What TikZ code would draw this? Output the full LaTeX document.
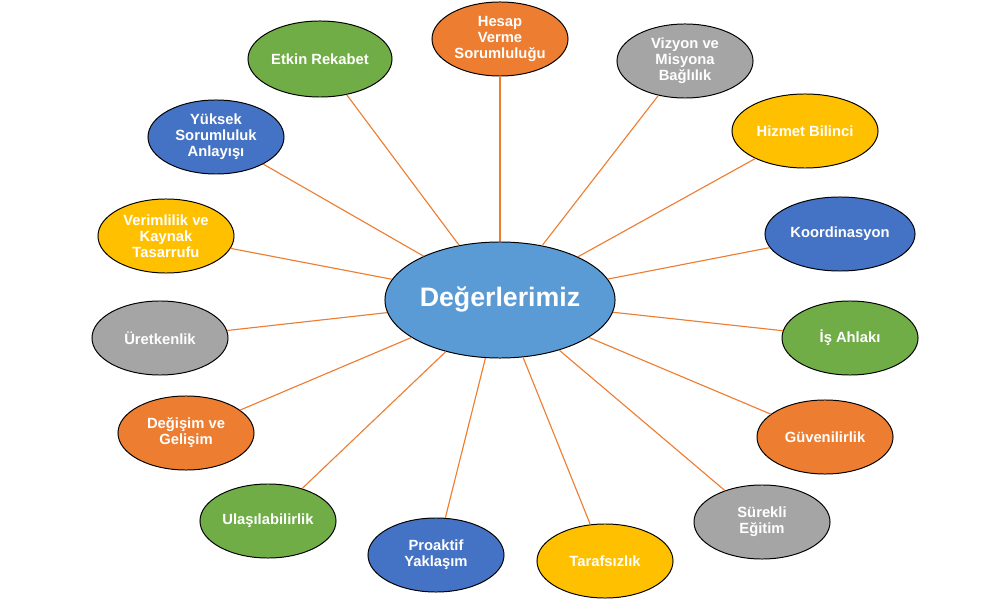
\documentclass[tikz,border=0pt]{standalone}
\usepackage{fontspec}
\setmainfont{Liberation Sans}
\usepackage{tikz}
\usetikzlibrary{shapes.geometric}

\definecolor{orng}{HTML}{ED7D31}
\definecolor{gry}{HTML}{A5A5A5}
\definecolor{ylw}{HTML}{FFC000}
\definecolor{blu}{HTML}{4472C4}
\definecolor{grn}{HTML}{70AD47}
\definecolor{mainblu}{HTML}{5B9BD5}

\tikzset{
  value/.style={ellipse, draw=black, line width=0.7pt, fill=#1, text=white,
    inner sep=0pt, minimum width=3.4cm, minimum height=1.85cm, align=center,
    font=\fontsize{10.5}{11.4}\selectfont\bfseries},
  link/.style={draw=orng, line width=0.8pt}
}

\begin{document}
\begin{tikzpicture}[x=0.025cm,y=0.025cm]
\useasboundingbox (0,0) rectangle (1004,-602);
% center
\node [value=mainblu, minimum width=5.75cm, minimum height=2.9cm,
  font=\fontsize{19}{22}\selectfont\bfseries] (main) at (500,-300) {Değerlerimiz};
% values, clockwise from top
\node [value=orng] (hesap) at (500,-39) {Hesap\\Verme\\Sorumluluğu};
\node [value=gry] (vizyon) at (685,-61) {Vizyon ve\\Misyona\\Bağlılık};
\node [value=ylw, minimum width=3.65cm] (hizmet) at (805,-131) {Hizmet Bilinci};
\node [value=blu, minimum width=3.75cm] (koord) at (840,-234) {Koordinasyon};
\node [value=grn] (ahlak) at (850,-338) {İş Ahlakı};
\node [value=orng] (guven) at (825,-437) {Güvenilirlik};
\node [value=gry] (egitim) at (762,-522) {Sürekli\\Eğitim};
\node [value=ylw] (taraf) at (605,-561) {Tarafsızlık};
\node [value=blu] (proakt) at (436,-555) {Proaktif\\Yaklaşım};
\node [value=grn] (ulas) at (268,-521) {Ulaşılabilirlik};
\node [value=orng] (degis) at (186,-433) {Değişim ve\\Gelişim};
\node [value=gry] (uret) at (160,-338) {Üretkenlik};
\node [value=ylw] (verim) at (166,-236) {Verimlilik ve\\Kaynak\\Tasarrufu};
\node [value=blu] (yuksek) at (216,-137) {Yüksek\\Sorumluluk\\Anlayışı};
\node [value=grn, minimum width=3.6cm, minimum height=1.9cm] (etkin) at (320,-59) {Etkin Rekabet};
% links
\foreach \v in {hesap,vizyon,hizmet,koord,ahlak,guven,egitim,taraf,proakt,ulas,degis,uret,verim,yuksek,etkin}
  \draw [link] (main) -- (\v);
\end{tikzpicture}
\end{document}
